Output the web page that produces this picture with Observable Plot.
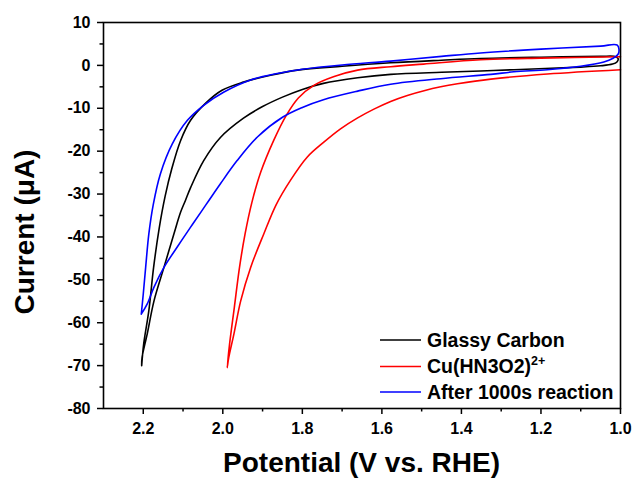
<!DOCTYPE html>
<html>
<head>
<meta charset="utf-8">
<script src="https://cdn.jsdelivr.net/npm/d3@7"></script>
<script src="https://cdn.jsdelivr.net/npm/@observablehq/plot@0.6"></script>
<style>
  html, body { margin: 0; padding: 0; background: #fff; }
  #chart { width: 633px; height: 479px; }
</style>
</head>
<body>
<div id="chart"></div>
<script>
// ---- Data (Potential V vs. RHE, Current µA) ----
const seriesNames = ["Glassy Carbon", "Cu(HN3O2)", "After 1000s reaction"];
const seriesColors = ["#000000", "#ff0000", "#0000ff"];

const glassyCarbon = [
  [2.204,-70.0],[2.199,-65.0],[2.186,-57.2],[2.174,-47.1],[2.160,-38.0],[2.145,-30.5],
  [2.128,-24.0],[2.106,-17.5],[2.081,-12.8],[2.043,-8.8],[2.002,-5.8],[1.948,-3.9],
  [1.880,-2.3],[1.812,-1.1],[1.70,-0.2],[1.578,0.6],[1.45,1.2],[1.352,1.6],[1.20,1.9],
  [1.05,2.1],[1.016,2.1],[1.006,1.6],[1.009,0.8],[1.020,0.3],[1.05,-0.1],[1.100,-0.4],
  [1.268,-1.0],[1.352,-1.3],[1.45,-1.6],[1.578,-2.1],[1.661,-2.9],[1.747,-4.2],
  [1.80,-5.6],[1.85,-7.4],[1.90,-9.6],[1.948,-12.3],[2.006,-16.8],[2.048,-22.2],
  [2.081,-28.5],[2.094,-31.5],[2.106,-34.2],[2.123,-39.3],[2.148,-47.1],[2.173,-54.9],
  [2.190,-62.6],[2.203,-68.1],[2.204,-70.0]
];

const cuComplex = [
  [1.0,2.0],[1.20,1.7],[1.352,1.3],[1.495,0.3],[1.578,-0.3],[1.661,-1.1],[1.72,-2.6],
  [1.77,-4.6],[1.81,-7.6],[1.84,-11.6],[1.872,-17.5],[1.905,-25.0],[1.927,-32.0],
  [1.944,-39.3],[1.958,-47.1],[1.971,-56.4],[1.983,-65.0],[1.989,-70.5],[1.985,-68.1],
  [1.972,-62.6],[1.955,-54.9],[1.930,-47.1],[1.897,-39.3],[1.866,-32.5],[1.830,-26.8],
  [1.788,-21.4],[1.746,-17.9],[1.704,-14.8],[1.662,-12.3],[1.620,-10.2],[1.578,-8.4],
  [1.536,-7.0],[1.494,-5.9],[1.452,-5.0],[1.410,-4.3],[1.326,-3.2],[1.184,-2.0],[1.0,-1.0]
];

const after1000s = [
  [2.205,-58.0],[2.200,-53.3],[2.194,-47.1],[2.186,-39.3],[2.175,-32.5],[2.157,-25.3],
  [2.127,-18.3],[2.089,-12.8],[2.048,-9.3],[1.997,-6.2],[1.930,-3.4],[1.863,-1.9],
  [1.80,-0.9],[1.70,0.1],[1.578,1.0],[1.45,2.1],[1.352,2.9],[1.20,3.8],
  [1.05,4.5],[1.008,4.7],[1.005,2.8],[1.020,1.6],[1.042,0.8],[1.100,-0.2],[1.184,-1.0],
  [1.268,-1.5],[1.326,-2.1],[1.452,-3.1],[1.578,-4.4],[1.661,-6.0],[1.747,-8.0],
  [1.80,-9.8],[1.85,-12.1],[1.913,-16.7],[1.964,-22.2],[2.006,-27.6],[2.035,-31.5],
  [2.052,-33.8],[2.081,-37.7],[2.115,-42.4],[2.148,-47.1],[2.173,-51.7],[2.190,-55.6],
  [2.205,-58.0]
];

const xMajorTicks = [2.2, 2.0, 1.8, 1.6, 1.4, 1.2, 1.0];
const xMinorTicks = [2.1, 1.9, 1.7, 1.5, 1.3, 1.1];
const yMajorTicks = [-80, -70, -60, -50, -40, -30, -20, -10, 0, 10];
const yMinorTicks = [-75, -65, -55, -45, -35, -25, -15, -5, 5];

const xTitle = "Potential (V vs. RHE)";
const yTitle = "Current (\u03BCA)";

// ---- Build table ----
const allSeries = [glassyCarbon, cuComplex, after1000s];
const rows = [];
allSeries.forEach((s, k) => s.forEach(([v, c], i) => rows.push({series: seriesNames[k], order: i, v, c})));

const W = 633, H = 479;
const M = {top: 22, right: 13, bottom: 71, left: 103};

const plot = Plot.plot({
  width: W,
  height: H,
  marginTop: M.top,
  marginRight: M.right,
  marginBottom: M.bottom,
  marginLeft: M.left,
  style: {
    fontFamily: "'Liberation Sans', Arial, Helvetica, sans-serif",
    fontSize: "16px",
    fontWeight: "bold",
    color: "#000",
    background: "#fff"
  },
  x: {domain: [2.3, 1.0], label: null},
  y: {domain: [-80, 10], label: null},
  color: {domain: seriesNames, range: seriesColors},
  marks: [
    Plot.line(rows, {
      x: "v", y: "c", z: "series", stroke: "series",
      strokeWidth: 1.6, curve: "catmull-rom"
    }),
    Plot.frame({stroke: "#000", strokeWidth: 1.6}),
    Plot.axisX(xMajorTicks, {
      anchor: "bottom", tickSize: 6, tickPadding: 8, strokeWidth: 1.5,
      tickFormat: d => d.toFixed(1), label: null
    }),
    Plot.axisX(xMinorTicks, {
      anchor: "bottom", tickSize: 3.5, strokeWidth: 1.5,
      tickFormat: () => "", label: null
    }),
    Plot.axisY(yMajorTicks, {
      anchor: "left", tickSize: 6, tickPadding: 7, strokeWidth: 1.5,
      tickFormat: d => String(d), label: null
    }),
    Plot.axisY(yMinorTicks, {
      anchor: "left", tickSize: 3.5, strokeWidth: 1.5,
      tickFormat: () => "", label: null
    })
  ]
});

document.getElementById("chart").appendChild(plot);

// ---- Axis titles and legend (layout, not data) ----
const svg = d3.select(plot);
const font = "'Liberation Sans', Arial, Helvetica, sans-serif";

svg.append("text")
  .attr("x", (M.left + (W - M.right)) / 2)
  .attr("y", 472)
  .attr("text-anchor", "middle")
  .attr("font-family", font)
  .attr("font-size", 28)
  .attr("font-weight", "bold")
  .attr("fill", "#000")
  .text(xTitle);

svg.append("text")
  .attr("transform", "translate(34,232) rotate(-90)")
  .attr("text-anchor", "middle")
  .attr("font-family", font)
  .attr("font-size", 28)
  .attr("font-weight", "bold")
  .attr("fill", "#000")
  .text(yTitle);

const legend = svg.append("g")
  .attr("font-family", font)
  .attr("font-weight", "bold")
  .attr("text-anchor", "start");
const legendY = [340, 366.5, 392];
seriesNames.forEach((name, i) => {
  const y = legendY[i];
  legend.append("line")
    .attr("x1", 380).attr("x2", 421)
    .attr("y1", y).attr("y2", y)
    .attr("stroke", seriesColors[i]).attr("stroke-width", 1.6);
  const t = legend.append("text")
    .attr("x", 427).attr("y", y + 6.8)
    .attr("text-anchor", "start")
    .attr("font-size", 19.5)
    .attr("fill", "#000")
    .text(name);
  if (i === 1) {
    t.append("tspan").attr("font-size", 12.5).attr("dy", -8.5).text("2+");
  }
});
</script>
</body>
</html>
